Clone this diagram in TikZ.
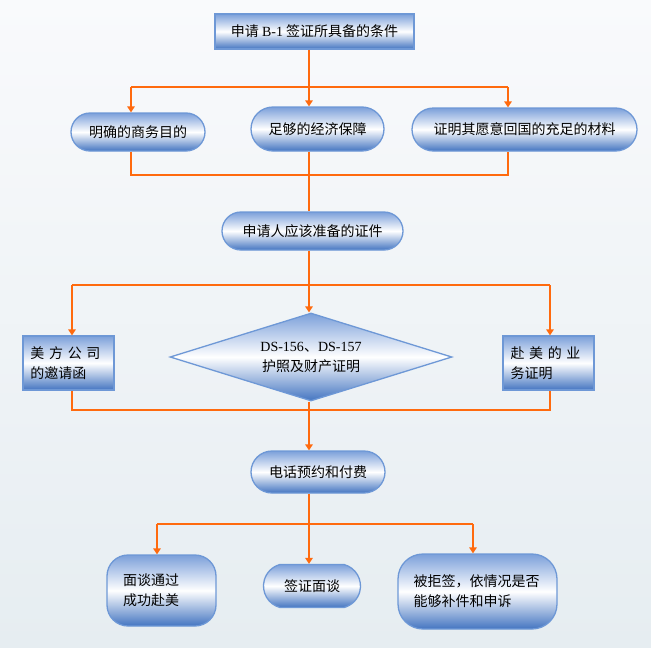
\documentclass[tikz,border=0pt]{standalone}
\usepackage{fontspec}
\setmainfont{Noto Sans CJK SC}
\newfontfamily\romanfont{Liberation Serif}
\usetikzlibrary{positioning,arrows.meta,shapes.geometric,shapes.misc}
\definecolor{PaperTop}{HTML}{F9FAFC}
\definecolor{PaperBottom}{HTML}{E6EDF1}
\definecolor{RimBlue}{HTML}{6E98D6}
\definecolor{UpperBlue}{HTML}{7CA0DA}
\definecolor{LowerBlue}{HTML}{4475C1}
\definecolor{LinkOrange}{HTML}{FF6A0E}

\begin{document}
\begin{tikzpicture}[x=1pt, y=-1pt,
  box/.style={draw=RimBlue, line width=1.3pt, top color=UpperBlue, bottom color=LowerBlue, middle color=white, font=\fontsize{14}{20}\selectfont, inner sep=0pt},
  plate/.style={box, rectangle},
  pill/.style={box, rounded rectangle},
  barrel/.style={box, rectangle, rounded corners=21pt},
  gate/.style={box, diamond, shape aspect=3.2},
  link/.style={LinkOrange, line width=1.4pt},
  feed/.style={link, -{Triangle[length=6pt, width=7.5pt]}}]
\fill[top color=PaperTop, bottom color=PaperBottom] (0,0) rectangle (651,648);
\useasboundingbox (0,0) rectangle (651,648);

\node[plate, minimum width=199pt, minimum height=35pt] (need) at (314.5,31.5) {申请 {\romanfont B-1} 签证所具备的条件};
\node[pill, minimum width=134pt, minimum height=38pt] (aim) at (138,132) {明确的商务目的};
\node[pill, minimum width=133pt, minimum height=44pt] (funds) at (317.5,129) {足够的经济保障};
\node[pill, minimum width=225pt, minimum height=43pt] (ties) at (524.5,129.5) {证明其愿意回国的充足的材料};
\node[pill, minimum width=181pt, minimum height=38pt] (docs) at (312.5,231) {申请人应该准备的证件};
\node[plate, minimum width=91pt, minimum height=54pt, text width=76pt, align=left] (invite) at (68.5,363) {美 方 公 司\\的邀请函};
\node[gate, minimum width=282pt, minimum height=88pt, align=center] (forms) at (311,357) {{\romanfont DS-156}、{\romanfont DS-157}\\护照及财产证明};
\node[plate, minimum width=91pt, minimum height=54pt, text width=76pt, align=left] (trip) at (548.5,363) {赴 美 的 业\\务证明};
\node[pill, minimum width=134pt, minimum height=42pt] (book) at (318,472) {电话预约和付费};
\node[barrel, minimum width=109pt, minimum height=71pt, text width=77pt, align=left] (pass) at (161.5,590.5) {面谈通过\\成功赴美};
\node[pill, rounded rectangle arc length=150, minimum width=97pt, minimum height=43pt] (talk) at (312,586) {签证面谈};
\node[barrel, rounded corners=25pt, minimum width=159pt, minimum height=75pt, text width=128pt, align=left] (refuse) at (477.5,591.5) {被拒签，依情况是否\\能够补件和申诉};

% trunk and bus ends
\coordinate (split1) at (309,87);
\coordinate (merge1) at (309,175);
\coordinate (split2) at (309,285);
\coordinate (merge2) at (309,410);
\coordinate (split3) at (309,524);
\coordinate (busA) at (131,87);
\coordinate (busB) at (508,87);
\coordinate (busC) at (72,285);
\coordinate (busD) at (550,285);
\coordinate (busE) at (157,524);
\coordinate (busF) at (473,524);

% conditions
\draw[link] (need.south -| split1) -- (split1);
\draw[link] (busA) -- (busB);
\draw[feed] (busA) -- (busA |- aim.north);
\draw[feed] (split1) -- (split1 |- funds.north);
\draw[feed] (busB) -- (busB |- ties.north);
\draw[link] (busA |- aim.south) -- (busA |- merge1) -- (busB |- merge1) -- (busB |- ties.south);
\draw[link] (split1 |- funds.south) -- (split1 |- docs.north);

% documents
\draw[link] (split1 |- docs.south) -- (split2);
\draw[link] (busC) -- (busD);
\draw[feed] (busC) -- (busC |- invite.north);
\draw[feed] (split2) -- (split2 |- forms.north);
\draw[feed] (busD) -- (busD |- trip.north);
\draw[link] (busC |- invite.south) -- (busC |- merge2) -- (busD |- merge2) -- (busD |- trip.south);
\draw[link] (split2 |- forms.south) -- (merge2);
\draw[feed] (merge2) -- (merge2 |- book.north);

% outcome
\draw[link] (merge2 |- book.south) -- (split3);
\draw[link] (busE) -- (busF);
\draw[feed] (busE) -- (busE |- pass.north);
\draw[feed] (split3) -- (split3 |- talk.north);
\draw[feed] (busF) -- (busF |- refuse.north);
\end{tikzpicture}
\end{document}
